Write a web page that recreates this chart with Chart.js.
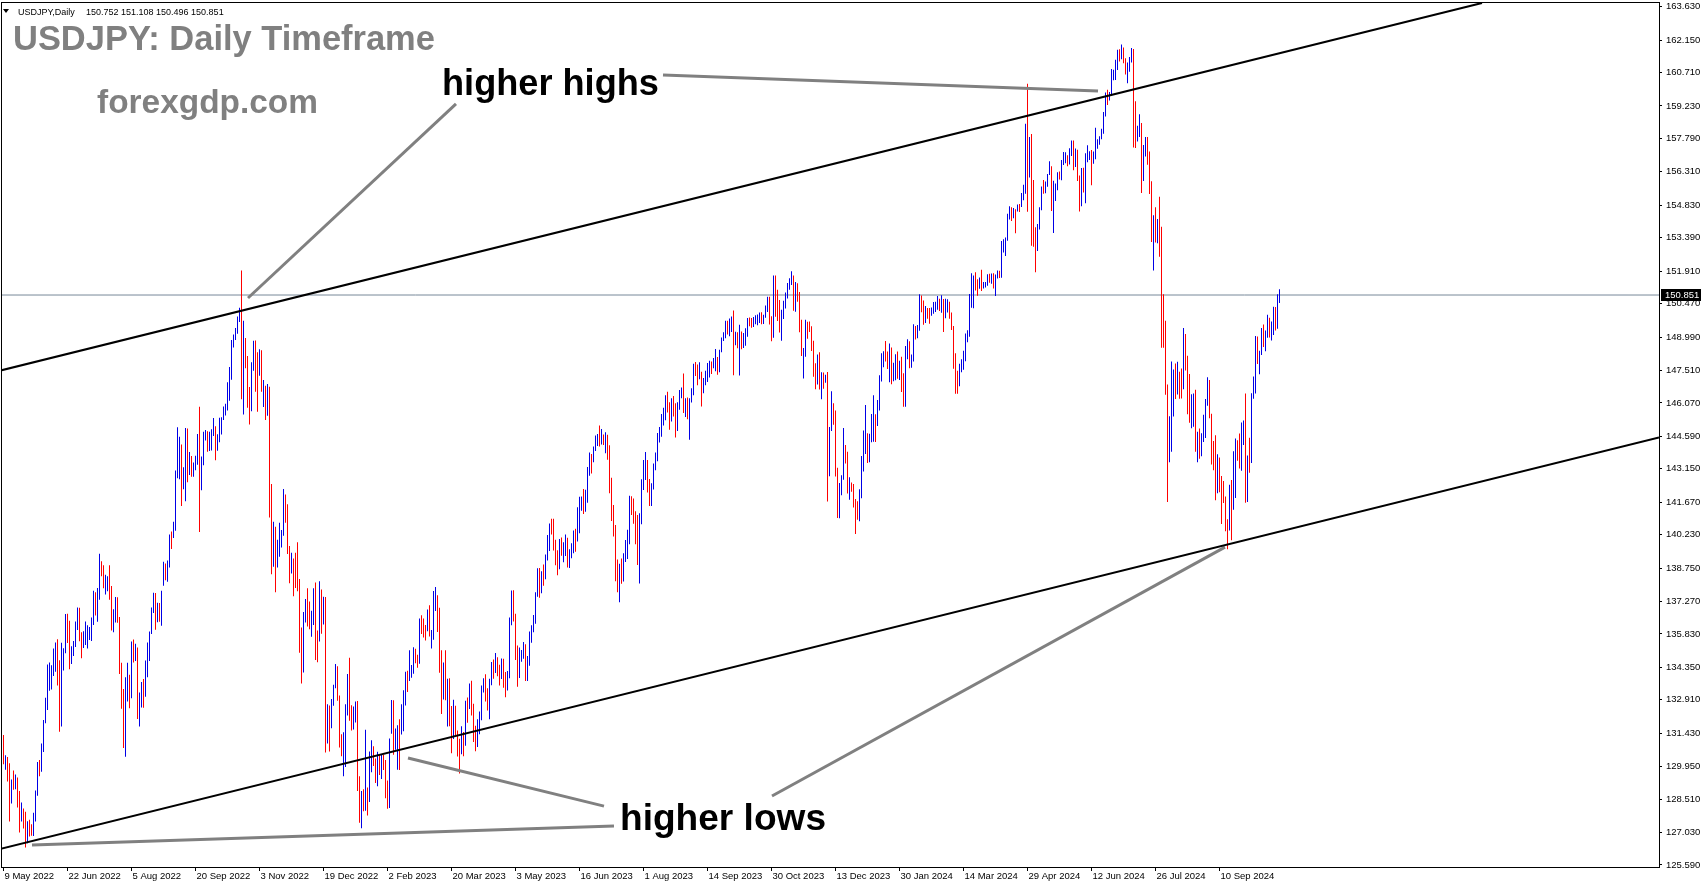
<!DOCTYPE html>
<html>
<head>
<meta charset="utf-8">
<title>USDJPY Daily</title>
<script src="https://cdn.jsdelivr.net/npm/chart.js@4.4.1/dist/chart.umd.min.js"></script>
<style>
  html, body { margin: 0; padding: 0; background: #fff; }
  canvas { display: block; }
</style>
</head>
<body>
<canvas id="usdjpy_chart" width="1705" height="888"></canvas>
<script>
// one label every 32 daily bars, first bar = 9 May 2022
const dateLabels = ['9 May 2022', '22 Jun 2022', '5 Aug 2022', '20 Sep 2022', '3 Nov 2022', '19 Dec 2022',
  '2 Feb 2023', '20 Mar 2023', '3 May 2023', '16 Jun 2023', '1 Aug 2023', '14 Sep 2023', '30 Oct 2023',
  '13 Dec 2023', '30 Jan 2024', '14 Mar 2024', '29 Apr 2024', '12 Jun 2024', '26 Jul 2024', '10 Sep 2024'];
const labelStep = 32;

const yTicks = [163.630, 162.150, 160.710, 159.230, 157.790, 156.310, 154.830, 153.390, 151.910, 150.470,
  148.990, 147.510, 146.070, 144.590, 143.150, 141.670, 140.230, 138.750, 137.270, 135.830, 134.350,
  132.910, 131.430, 129.950, 128.510, 127.030, 125.590];

const firstOpen = 130.55;
const lastPrice = 150.851;
const headerName = 'USDJPY,Daily';
const headerValues = '150.752 151.108 150.496 150.851';

// daily highs, one week per line
const highs = [
  131.35,130.45,130.38,130.10,129.38,
  129.78,129.60,129.47,128.87,128.36,
  128.09,127.95,127.53,127.60,127.40,
  127.91,128.89,130.16,130.24,130.98,
  132.02,133.00,134.48,134.56,134.44,
  135.19,135.45,135.59,134.66,135.44,
  135.20,136.71,136.72,136.42,135.29,
  135.52,136.38,137.00,136.99,135.90,
  135.95,136.38,136.22,136.14,136.56,
  137.75,137.68,137.87,139.38,139.05,
  138.88,138.45,138.39,138.87,137.95,
  136.92,137.47,137.46,136.58,134.55,
  133.39,133.91,134.55,134.02,135.50,
  135.58,135.40,135.23,133.23,133.70,
  133.83,134.65,135.45,135.94,137.00,
  137.66,137.65,137.21,137.20,137.74,
  139.03,138.95,139.08,140.24,140.37,
  140.80,143.07,144.99,144.57,144.23,
  143.22,144.96,144.94,143.89,143.72,
  143.43,143.73,144.69,145.90,143.69,
  144.79,144.87,144.81,144.79,144.90,
  145.40,145.04,144.68,145.41,145.43,
  145.91,146.03,146.98,147.66,148.86,
  149.10,149.39,149.90,150.29,151.94,
  149.71,148.95,148.15,146.78,147.87,
  148.82,148.84,148.31,148.45,148.40,
  147.08,146.83,146.91,146.79,142.48,
  140.80,140.58,140.00,140.76,140.44,
  142.25,142.01,141.58,139.73,139.43,
  139.17,139.43,139.89,138.26,136.12,
  136.80,137.38,137.86,137.27,136.86,
  137.85,138.11,135.98,138.17,137.80,
  137.48,137.47,132.71,132.66,132.95,
  133.58,134.50,134.40,133.10,
  131.39,131.47,132.71,134.05,134.77,
  132.67,132.61,132.84,132.86,129.52,
  128.87,128.95,131.58,129.02,130.62,
  131.12,130.85,130.31,130.61,130.48,
  130.46,130.47,130.24,129.33,131.20,
  132.90,132.89,131.64,131.78,132.05,
  132.71,133.33,134.15,134.20,135.11,
  134.45,135.24,135.17,134.91,136.52,
  136.66,136.51,136.23,136.91,137.10,
  136.00,137.73,137.91,137.54,136.99,
  135.11,134.56,135.11,133.84,133.87,
  132.64,132.91,132.65,131.55,131.19,
  131.74,131.48,132.87,133.01,133.63,
  133.76,132.74,131.76,132.05,132.39,
  133.55,133.87,134.04,133.42,133.84,
  134.59,134.70,134.98,134.80,134.46,
  134.74,134.73,134.14,134.19,136.56,
  137.76,137.77,136.73,135.32,135.23,
  135.12,135.47,135.37,134.85,135.94,
  136.22,136.67,137.68,138.74,138.75,
  138.61,138.91,139.35,140.22,140.73,
  140.93,140.93,140.01,139.54,140.04,
  140.10,139.89,140.24,140.09,139.58,
  139.85,140.42,140.49,141.44,141.91,
  141.92,142.25,142.22,143.23,143.87,
  143.81,144.14,144.63,144.69,145.07,
  144.91,144.67,144.77,144.66,144.19,
  142.75,141.54,140.66,139.13,138.94,
  139.17,139.41,139.99,140.45,141.96,
  141.93,141.83,141.27,141.10,141.18,
  142.69,143.54,143.89,143.54,142.70,
  142.51,143.38,143.87,144.74,145.00,
  145.58,145.86,146.41,146.56,146.10,
  146.28,146.38,146.06,146.10,146.64,
  146.75,147.37,146.28,146.31,146.28,
  146.72,147.80,147.88,147.77,147.87,
  147.45,147.17,147.49,147.84,147.94,
  147.90,148.06,148.46,148.10,148.43,
  148.97,149.20,149.71,149.71,149.81,
  149.90,150.16,149.22,149.20,149.53,
  149.24,149.17,149.38,149.83,149.85,
  149.83,149.88,149.95,149.99,150.08,
  150.09,149.98,150.39,150.78,150.78,
  149.91,151.72,151.72,151.08,150.63,
  150.20,150.60,150.96,151.38,151.59,
  151.91,151.72,151.43,151.37,150.99,
  149.75,148.50,149.75,149.67,149.68,
  149.47,148.83,147.83,148.21,148.32,
  147.43,147.42,147.32,147.44,145.00,
  146.59,146.05,145.73,143.20,142.52,
  142.86,144.96,144.20,143.90,142.77,
  142.54,142.48,141.81,141.71,
  142.24,143.72,144.85,145.98,
  144.73,144.70,145.58,146.41,145.57,
  146.20,147.29,148.27,148.36,148.81,
  148.35,148.70,148.53,147.85,148.23,
  148.35,147.94,148.12,147.38,148.59,
  148.89,148.80,148.22,149.56,149.48,
  149.52,150.89,150.83,150.61,150.37,
  150.28,150.28,150.30,150.54,150.55,
  150.81,150.69,150.84,150.68,150.69,
  150.66,150.55,150.08,149.48,148.27,
  147.50,147.80,148.01,148.38,149.15,
  149.29,150.90,151.82,151.72,151.86,
  151.55,151.63,151.97,151.43,151.43,
  151.77,151.79,151.80,151.82,151.76,
  151.94,151.93,153.24,153.32,153.40,
  154.45,154.79,154.74,154.71,154.65,
  154.86,154.89,155.37,155.74,158.44,
  160.21,157.85,157.99,155.95,153.86,
  154.00,154.74,155.66,155.95,155.88,
  156.22,156.78,156.56,155.92,155.79,
  156.29,156.33,156.83,157.19,157.18,
  157.05,157.36,157.70,157.70,157.34,
  157.29,156.15,156.48,156.49,157.14,
  157.49,157.22,157.28,157.21,158.26,
  157.75,157.89,158.22,158.96,159.83,
  159.95,159.85,160.87,160.84,161.28,
  161.72,161.74,161.95,161.82,161.34,
  161.16,161.40,161.80,161.76,159.44,
  158.35,158.86,158.48,157.50,157.86,
  157.86,157.21,155.89,154.39,154.74,
  154.22,155.21,153.88,150.89,149.71,
  146.89,145.48,147.90,147.55,147.82,
  147.89,147.45,147.60,149.39,149.12,
  148.16,147.35,146.45,146.49,146.65,
  144.79,144.94,144.73,145.55,146.24,
  147.21,147.09,145.59,144.38,144.64,
  143.79,143.65,142.83,142.61,141.92,
  140.91,142.44,142.65,143.93,144.49,
  144.42,144.71,145.20,145.29,146.49,
  143.74,144.53,146.50,147.24,149.03,
  149.01,148.38,149.39,149.54,149.28,
  149.98,149.84,149.68,150.33,150.32,
  150.89,151.11
];

const lows = [
  130.05,129.81,129.29,127.52,128.32,
  128.92,128.95,128.14,127.03,127.52,
  127.21,126.36,126.55,126.85,126.89,
  126.87,127.52,128.66,129.52,129.72,
  130.60,131.87,132.46,133.31,133.37,
  133.97,134.15,133.55,131.50,131.73,
  134.21,134.97,135.43,134.27,134.50,
  134.85,135.25,136.01,135.51,134.75,
  135.21,135.34,135.18,135.56,135.52,
  136.23,136.65,136.37,137.35,138.39,
  137.85,137.58,137.72,137.35,135.98,
  135.91,136.34,136.33,134.06,132.51,
  130.77,130.39,132.84,132.54,132.98,
  134.57,134.63,132.06,131.73,132.57,
  132.56,133.05,133.91,134.63,135.83,
  136.76,136.02,136.35,136.37,136.19,
  137.97,138.21,138.14,138.77,139.59,
  140.08,140.40,142.73,142.69,141.50,
  142.24,141.71,142.55,142.88,142.80,
  142.80,143.08,143.33,140.35,142.20,
  143.31,144.40,143.91,143.94,143.96,
  144.60,143.53,143.95,144.33,144.67,
  145.31,145.51,145.73,146.17,147.10,
  148.52,148.86,149.13,149.65,146.23,
  145.56,147.61,145.85,145.11,145.70,
  147.50,146.56,145.68,147.27,146.56,
  145.89,145.31,145.50,140.99,138.48,
  138.81,137.68,138.78,139.25,139.66,
  140.18,140.76,139.37,138.08,138.51,
  137.50,137.87,137.72,135.00,133.63,
  134.12,136.34,136.16,136.04,135.71,
  136.23,134.67,134.58,135.49,135.84,
  136.25,130.58,130.98,130.62,131.65,
  132.65,133.42,132.87,130.80,
  130.41,129.52,129.93,132.21,131.98,
  131.55,131.60,131.91,128.87,127.46,
  127.22,127.97,127.99,127.78,128.38,
  129.70,129.98,129.22,129.08,129.58,
  129.40,129.80,128.55,128.08,128.12,
  131.41,130.48,130.70,129.81,129.80,
  131.37,131.52,132.66,133.26,133.74,
  133.89,134.07,134.53,134.33,134.51,
  135.83,135.67,135.54,135.95,135.72,
  135.19,135.57,136.85,135.92,134.11,
  132.28,132.93,132.89,131.73,131.74,
  130.54,131.17,131.35,130.40,129.64,
  130.50,130.41,130.88,131.89,132.50,
  132.21,131.04,130.63,130.82,131.39,
  132.00,133.24,132.84,132.44,132.05,
  133.56,133.84,134.10,133.96,133.54,
  133.83,133.45,133.02,133.32,133.87,
  136.22,136.38,134.68,133.49,133.88,
  134.60,134.73,133.75,133.74,134.42,
  135.44,135.90,136.28,137.48,137.43,
  137.63,137.97,138.25,139.09,139.51,
  140.24,139.53,138.87,138.43,138.70,
  139.30,139.01,139.28,138.78,138.75,
  139.18,139.41,139.47,139.93,140.29,
  141.29,141.15,141.25,141.64,142.84,
  142.94,143.44,143.94,144.16,144.14,
  144.23,144.20,143.84,143.55,142.07,
  140.84,140.15,138.16,137.68,137.24,
  138.06,138.15,139.02,139.15,139.80,
  141.10,140.71,139.81,138.89,138.07,
  140.69,142.21,142.65,142.10,141.50,
  141.50,142.23,143.09,143.48,144.31,
  144.57,145.07,145.30,145.64,144.88,
  145.25,145.47,144.54,144.82,145.77,
  146.28,145.62,145.44,145.35,144.44,
  146.09,146.41,147.26,146.85,147.12,
  145.91,146.50,146.85,147.00,147.20,
  147.35,147.61,147.47,147.32,147.43,
  148.32,148.81,148.94,149.10,149.02,
  149.21,147.30,148.63,148.49,147.28,
  148.45,148.50,148.60,149.00,149.47,
  149.40,149.43,149.56,149.51,149.61,
  149.56,149.57,149.84,150.10,149.55,
  148.80,148.96,149.89,149.70,149.19,
  148.83,149.79,150.25,150.70,151.08,
  151.30,150.15,150.11,150.55,149.20,
  148.15,147.15,148.12,148.91,149.21,
  148.37,147.23,146.67,146.88,146.66,
  146.23,146.70,146.96,141.70,142.82,
  144.82,145.10,142.81,140.97,140.96,
  141.98,142.66,143.38,142.06,141.78,
  142.13,141.43,140.26,140.89,
  140.82,141.84,143.03,143.81,
  143.41,143.44,144.33,144.35,144.34,
  145.05,145.73,147.02,147.65,147.90,
  147.57,146.98,146.90,147.03,147.07,
  147.14,147.09,146.55,145.90,145.90,
  148.01,147.61,147.63,147.91,148.88,
  148.93,149.27,150.09,149.53,149.61,
  149.80,149.58,149.93,150.02,150.10,
  150.20,150.14,150.06,149.21,149.82,
  150.08,149.80,149.30,147.58,146.48,
  146.48,146.81,147.43,147.54,147.92,
  148.76,149.00,150.29,150.26,151.05,
  150.82,151.13,151.03,151.14,151.19,
  151.26,151.40,151.35,151.14,150.81,
  151.58,151.61,151.62,152.74,152.58,
  153.26,154.20,154.13,154.25,153.59,
  154.55,154.53,154.75,155.05,155.34,
  154.54,156.06,153.04,152.99,151.86,
  152.80,153.75,154.61,155.34,155.36,
  155.65,156.17,154.57,153.60,155.02,
  155.49,155.97,155.94,156.61,156.69,
  156.56,156.64,157.01,156.38,156.52,
  155.91,154.55,154.79,155.40,154.92,
  156.74,156.84,155.72,156.67,156.87,
  157.33,157.51,157.76,158.00,158.76,
  159.27,159.47,159.68,160.37,160.38,
  160.82,161.20,161.30,161.12,160.62,
  160.24,160.75,161.16,157.39,157.37,
  157.65,157.86,155.37,155.90,156.99,
  156.63,155.33,153.20,151.94,153.18,
  153.15,152.55,148.51,148.51,146.43,
  141.68,143.44,143.91,145.47,146.24,
  146.44,146.25,146.27,146.68,147.51,
  145.57,145.19,144.95,145.01,143.91,
  143.44,143.60,143.70,144.34,144.51,
  145.94,145.39,143.34,143.09,141.76,
  142.07,142.11,140.70,141.63,140.38,
  139.58,140.42,139.98,141.33,141.85,
  143.51,143.16,143.06,144.20,141.65,
  141.68,142.97,143.41,146.25,146.49,
  147.79,147.34,148.19,148.55,148.36,
  148.96,148.97,148.84,149.08,149.28,
  149.36,150.50
];

const closes = [
  130.29,130.44,129.93,128.34,129.24,
  129.13,129.39,128.26,127.79,127.87,
  127.86,126.84,127.33,127.12,127.10,
  127.61,128.69,130.09,129.87,130.88,
  131.88,132.62,134.25,134.35,134.39,
  134.42,135.43,133.80,132.18,134.98,
  135.07,136.63,136.23,134.93,135.22,
  135.47,136.13,136.60,135.72,135.23,
  135.70,135.85,135.92,136.04,136.08,
  137.43,136.87,137.40,138.94,138.55,
  138.12,138.19,138.21,137.38,136.08,
  136.67,136.95,136.52,134.25,133.28,
  131.62,133.18,133.86,133.00,135.00,
  134.99,135.14,132.86,132.99,133.45,
  133.33,134.21,135.05,135.88,136.93,
  137.49,136.75,137.13,136.59,137.64,
  138.82,138.71,138.97,140.20,140.19,
  140.51,142.79,143.74,144.11,142.59,
  142.82,144.59,143.19,143.48,142.91,
  143.17,143.68,144.09,142.37,143.34,
  144.74,144.75,144.19,144.45,144.74,
  144.85,144.07,144.61,145.14,145.33,
  145.72,145.84,146.88,147.20,148.71,
  149.04,149.24,149.88,150.14,147.64,
  148.97,148.05,146.34,146.30,147.47,
  148.70,148.19,147.90,148.20,146.62,
  146.64,145.65,146.40,141.05,138.79,
  139.88,139.30,139.54,140.25,140.38,
  141.99,141.22,139.59,138.58,139.20,
  138.95,138.73,138.05,135.36,134.31,
  136.70,137.01,136.56,136.55,136.61,
  137.65,135.59,135.49,137.80,136.68,
  136.91,131.67,132.44,132.11,132.85,
  133.49,134.47,133.06,131.12,
  130.70,131.01,132.44,133.42,132.10,
  131.88,132.28,132.38,129.24,127.88,
  128.53,128.24,128.91,128.44,129.61,
  130.69,130.19,129.24,130.23,129.86,
  130.40,130.09,128.93,128.66,131.19,
  132.64,131.06,131.41,131.46,131.38,
  132.43,133.16,134.12,133.92,134.15,
  134.21,134.96,134.90,134.66,136.45,
  136.24,136.17,136.11,136.74,135.85,
  135.93,137.16,137.33,136.12,134.98,
  133.19,134.21,133.43,133.70,131.81,
  131.32,132.49,131.45,130.86,130.74,
  131.48,130.90,132.86,132.68,132.84,
  132.45,131.70,131.33,131.74,132.16,
  133.51,133.67,133.11,132.63,133.74,
  134.49,134.11,134.68,134.20,134.14,
  134.26,133.72,133.67,133.95,136.29,
  137.46,136.56,134.70,134.26,134.81,
  135.06,135.20,134.30,134.50,135.72,
  136.10,136.37,137.65,138.66,137.97,
  138.59,138.57,139.27,139.99,140.61,
  140.44,139.78,139.34,138.80,139.94,
  139.58,139.60,140.10,139.14,139.38,
  139.62,140.22,140.08,140.28,141.88,
  141.90,141.45,141.93,143.11,143.71,
  143.54,144.05,144.47,144.51,144.30,
  144.65,144.49,144.70,144.05,142.14,
  141.33,140.35,138.43,138.09,138.78,
  138.74,139.34,139.66,140.01,141.80,
  141.48,140.92,140.25,139.45,141.15,
  142.29,143.31,143.34,142.55,141.76,
  142.45,143.35,143.76,144.71,144.94,
  145.54,145.59,146.35,145.90,145.39,
  146.20,145.86,144.84,145.80,146.43,
  146.53,145.89,146.16,145.54,146.20,
  146.52,147.69,147.66,147.30,147.83,
  146.56,147.11,147.45,147.47,147.85,
  147.61,147.86,148.35,147.58,148.38,
  148.88,149.06,149.61,149.30,149.34,
  149.85,149.04,149.14,148.50,149.31,
  148.51,148.74,149.17,149.77,149.59,
  149.52,149.75,149.80,149.82,149.86,
  149.72,149.89,150.24,150.38,149.63,
  149.09,151.67,150.95,150.45,149.39,
  150.05,150.36,150.94,151.35,151.52,
  151.65,150.40,151.31,150.66,149.63,
  148.36,148.39,149.55,149.53,149.44,
  148.67,147.45,147.25,148.16,146.80,
  147.21,147.18,147.27,144.18,144.95,
  145.93,145.41,142.90,141.89,142.15,
  142.79,143.82,143.59,142.14,142.41,
  142.37,141.78,141.41,141.02,
  142.00,143.27,144.62,144.66,
  144.24,144.46,145.25,145.34,144.91,
  145.76,147.17,148.14,148.19,148.13,
  148.12,148.37,147.50,147.67,148.12,
  147.47,147.60,146.90,146.43,148.38,
  148.68,147.93,148.18,149.28,149.27,
  149.34,150.78,150.57,149.96,150.20,
  150.14,150.01,150.29,150.50,150.51,
  150.69,150.53,150.68,149.96,150.11,
  150.49,150.06,149.36,147.96,147.06,
  146.93,147.65,147.77,148.34,149.05,
  149.14,150.87,151.26,151.60,151.42,
  151.40,151.55,151.31,151.34,151.35,
  151.65,151.56,151.68,151.32,151.61,
  151.86,151.76,153.17,153.18,153.27,
  154.26,154.71,154.40,154.65,154.63,
  154.82,154.80,155.35,155.63,158.32,
  156.35,157.78,155.01,153.02,152.95,
  153.86,154.68,155.57,155.48,155.78,
  156.21,156.40,154.88,155.41,155.65,
  156.27,156.17,156.80,156.95,156.99,
  156.84,157.20,157.59,156.80,157.26,
  156.10,154.90,156.09,155.62,156.75,
  157.05,157.09,156.96,157.03,157.39,
  157.72,157.85,158.11,158.86,159.78,
  159.70,159.73,160.75,160.80,160.87,
  161.49,161.46,161.70,161.24,160.72,
  160.83,161.32,161.64,158.80,157.86,
  158.08,158.35,156.19,157.36,157.46,
  157.03,155.58,153.88,153.91,153.76,
  153.91,152.73,149.97,149.35,146.52,
  144.19,144.32,146.76,147.21,146.65,
  147.21,146.86,146.71,149.27,147.63,
  146.62,145.23,145.29,146.32,144.35,
  144.54,143.94,144.58,144.99,146.18,
  146.93,145.47,143.74,143.46,142.29,
  143.12,142.43,142.34,141.84,140.84,
  140.62,142.36,142.29,142.62,143.85,
  143.60,143.19,144.78,144.80,142.17,
  143.63,143.53,146.45,146.96,148.71,
  148.18,148.19,149.28,148.58,149.14,
  149.77,149.18,149.24,150.03,149.52,
  150.75,150.85
];

// drawn objects, in bar index / price units
const upperChannel = [{ x: -1.75, y: 147.50 }, { x: 739.25, y: 163.79 }];
const lowerChannel = [{ x: -1.75, y: 126.30 }, { x: 827.75, y: 144.54 }];
const highsPointer1 = [{ x: 122.25, y: 150.72 }, { x: 226.25, y: 159.32 }];
const highsPointer2 = [{ x: 329.75, y: 160.60 }, { x: 547.25, y: 159.89 }];
const lowsPointer1 = [{ x: 202.25, y: 130.33 }, { x: 300.25, y: 128.20 }];
const lowsPointer2 = [{ x: 14.25, y: 126.48 }, { x: 305.25, y: 127.32 }];
const lowsPointer3 = [{ x: 384.25, y: 128.65 }, { x: 610.75, y: 139.68 }];

const xMin = -1.25;
const xMax = 827.75;
const yMin = 125.501;
const yMax = 163.838;

const upColor = '#0000e6';
const downColor = '#ff0000';
const axisFont = { family: "'Liberation Sans', Arial, sans-serif", size: 9.5 };

const barData = highs.map((h, i) => ({ x: i, y: [lows[i], h] }));
const barColors = closes.map((c, i) => c >= (i ? closes[i - 1] : firstOpen) ? upColor : downColor);
const priceLine = [{ x: xMin, y: lastPrice }, { x: xMax, y: lastPrice }];

function trendLine(points, color, width) {
  return { type: 'line', data: points, borderColor: color, borderWidth: width,
    pointRadius: 0, fill: false, tension: 0, order: 1 };
}

function fitText(ctx, text, x, y, width, weight, color) {
  const family = "'Liberation Sans', Arial, sans-serif";
  ctx.font = weight + ' 100px ' + family;
  const size = 100 * width / ctx.measureText(text).width;
  ctx.font = weight + ' ' + size.toFixed(2) + 'px ' + family;
  ctx.fillStyle = color;
  ctx.fillText(text, x, y);
}

const overlay = {
  id: 'overlay',
  afterDraw(chart) {
    const ctx = chart.ctx;
    const a = chart.chartArea;
    ctx.save();

    // chart frame
    ctx.strokeStyle = '#000';
    ctx.lineWidth = 1;
    ctx.strokeRect(a.left + 0.5, a.top + 0.5, a.right - a.left, a.bottom - a.top);

    // current price box on the axis
    const py = Math.round(chart.scales.y.getPixelForValue(lastPrice));
    ctx.fillStyle = '#000';
    ctx.fillRect(a.right + 2, py - 6, 40, 12);
    ctx.fillStyle = '#fff';
    ctx.font = axisFont.size + 'px ' + axisFont.family;
    ctx.textAlign = 'left';
    ctx.textBaseline = 'middle';
    ctx.fillText(lastPrice.toFixed(3), a.right + 6, py);

    // header line
    ctx.fillStyle = '#000';
    ctx.beginPath();
    ctx.moveTo(3, 9);
    ctx.lineTo(9, 9);
    ctx.lineTo(6, 13);
    ctx.closePath();
    ctx.fill();
    ctx.textBaseline = 'alphabetic';
    ctx.font = '9px ' + axisFont.family;
    ctx.fillText(headerName, 18, 15);
    ctx.fillText(headerValues, 86, 15);

    // titles and notes
    fitText(ctx, 'USDJPY: Daily Timeframe', 13, 50, 422, 'bold', '#808080');
    fitText(ctx, 'forexgdp.com', 97, 113, 221, 'bold', '#808080');
    fitText(ctx, 'higher highs', 442, 95, 217, 'bold', '#000');
    fitText(ctx, 'higher lows', 620, 830, 206, 'bold', '#000');
    ctx.restore();
  }
};

const ctx = document.getElementById('usdjpy_chart').getContext('2d');

const usdjpyChart = new Chart(ctx, {
  type: 'bar',
  data: {
    datasets: [
      { type: 'line', data: priceLine, borderColor: '#778899', borderWidth: 1, pointRadius: 0, order: 4 },
      { type: 'bar', data: barData, backgroundColor: barColors, barThickness: 1, borderWidth: 0,
        inflateAmount: 0, grouped: false, order: 3 },
      trendLine(upperChannel, '#000', 2),
      trendLine(lowerChannel, '#000', 2),
      trendLine(highsPointer1, '#808080', 3),
      trendLine(highsPointer2, '#808080', 3),
      trendLine(lowsPointer1, '#808080', 3),
      trendLine(lowsPointer2, '#808080', 3),
      trendLine(lowsPointer3, '#808080', 3)
    ]
  },
  options: {
    responsive: false,
    animation: false,
    devicePixelRatio: 1,
    events: [],
    layout: { padding: { left: 1, top: 2, right: 0, bottom: 0 } },
    plugins: { legend: { display: false }, tooltip: { enabled: false } },
    scales: {
      x: {
        type: 'linear',
        position: 'bottom',
        min: xMin,
        max: xMax,
        bounds: 'data',
        offset: false,
        grid: { offset: false, drawOnChartArea: false, drawTicks: true, tickLength: 4, color: '#000' },
        border: { display: false },
        ticks: {
          autoSkip: false, maxRotation: 0, align: 'start', padding: 0, labelOffset: 1,
          color: '#000', font: axisFont,
          callback: (value) => dateLabels[Math.round(value / labelStep)] || ''
        },
        afterBuildTicks: (scale) => { scale.ticks = dateLabels.map((_, k) => ({ value: k * labelStep })); },
        afterFit: (scale) => { scale.height = 21; scale.paddingLeft = 0; scale.paddingRight = 0; }
      },
      y: {
        type: 'linear',
        position: 'right',
        min: yMin,
        max: yMax,
        bounds: 'data',
        beginAtZero: false,
        grid: { drawOnChartArea: false, drawTicks: true, tickLength: 3, color: '#000' },
        border: { display: false },
        ticks: {
          padding: 4, color: '#000', font: axisFont,
          callback: (value) => Number(value).toFixed(3)
        },
        afterBuildTicks: (scale) => { scale.ticks = yTicks.map(v => ({ value: v })); },
        afterFit: (scale) => { scale.width = 46; scale.paddingTop = 0; scale.paddingBottom = 0; }
      }
    }
  },
  plugins: [overlay]
});
</script>
</body>
</html>
